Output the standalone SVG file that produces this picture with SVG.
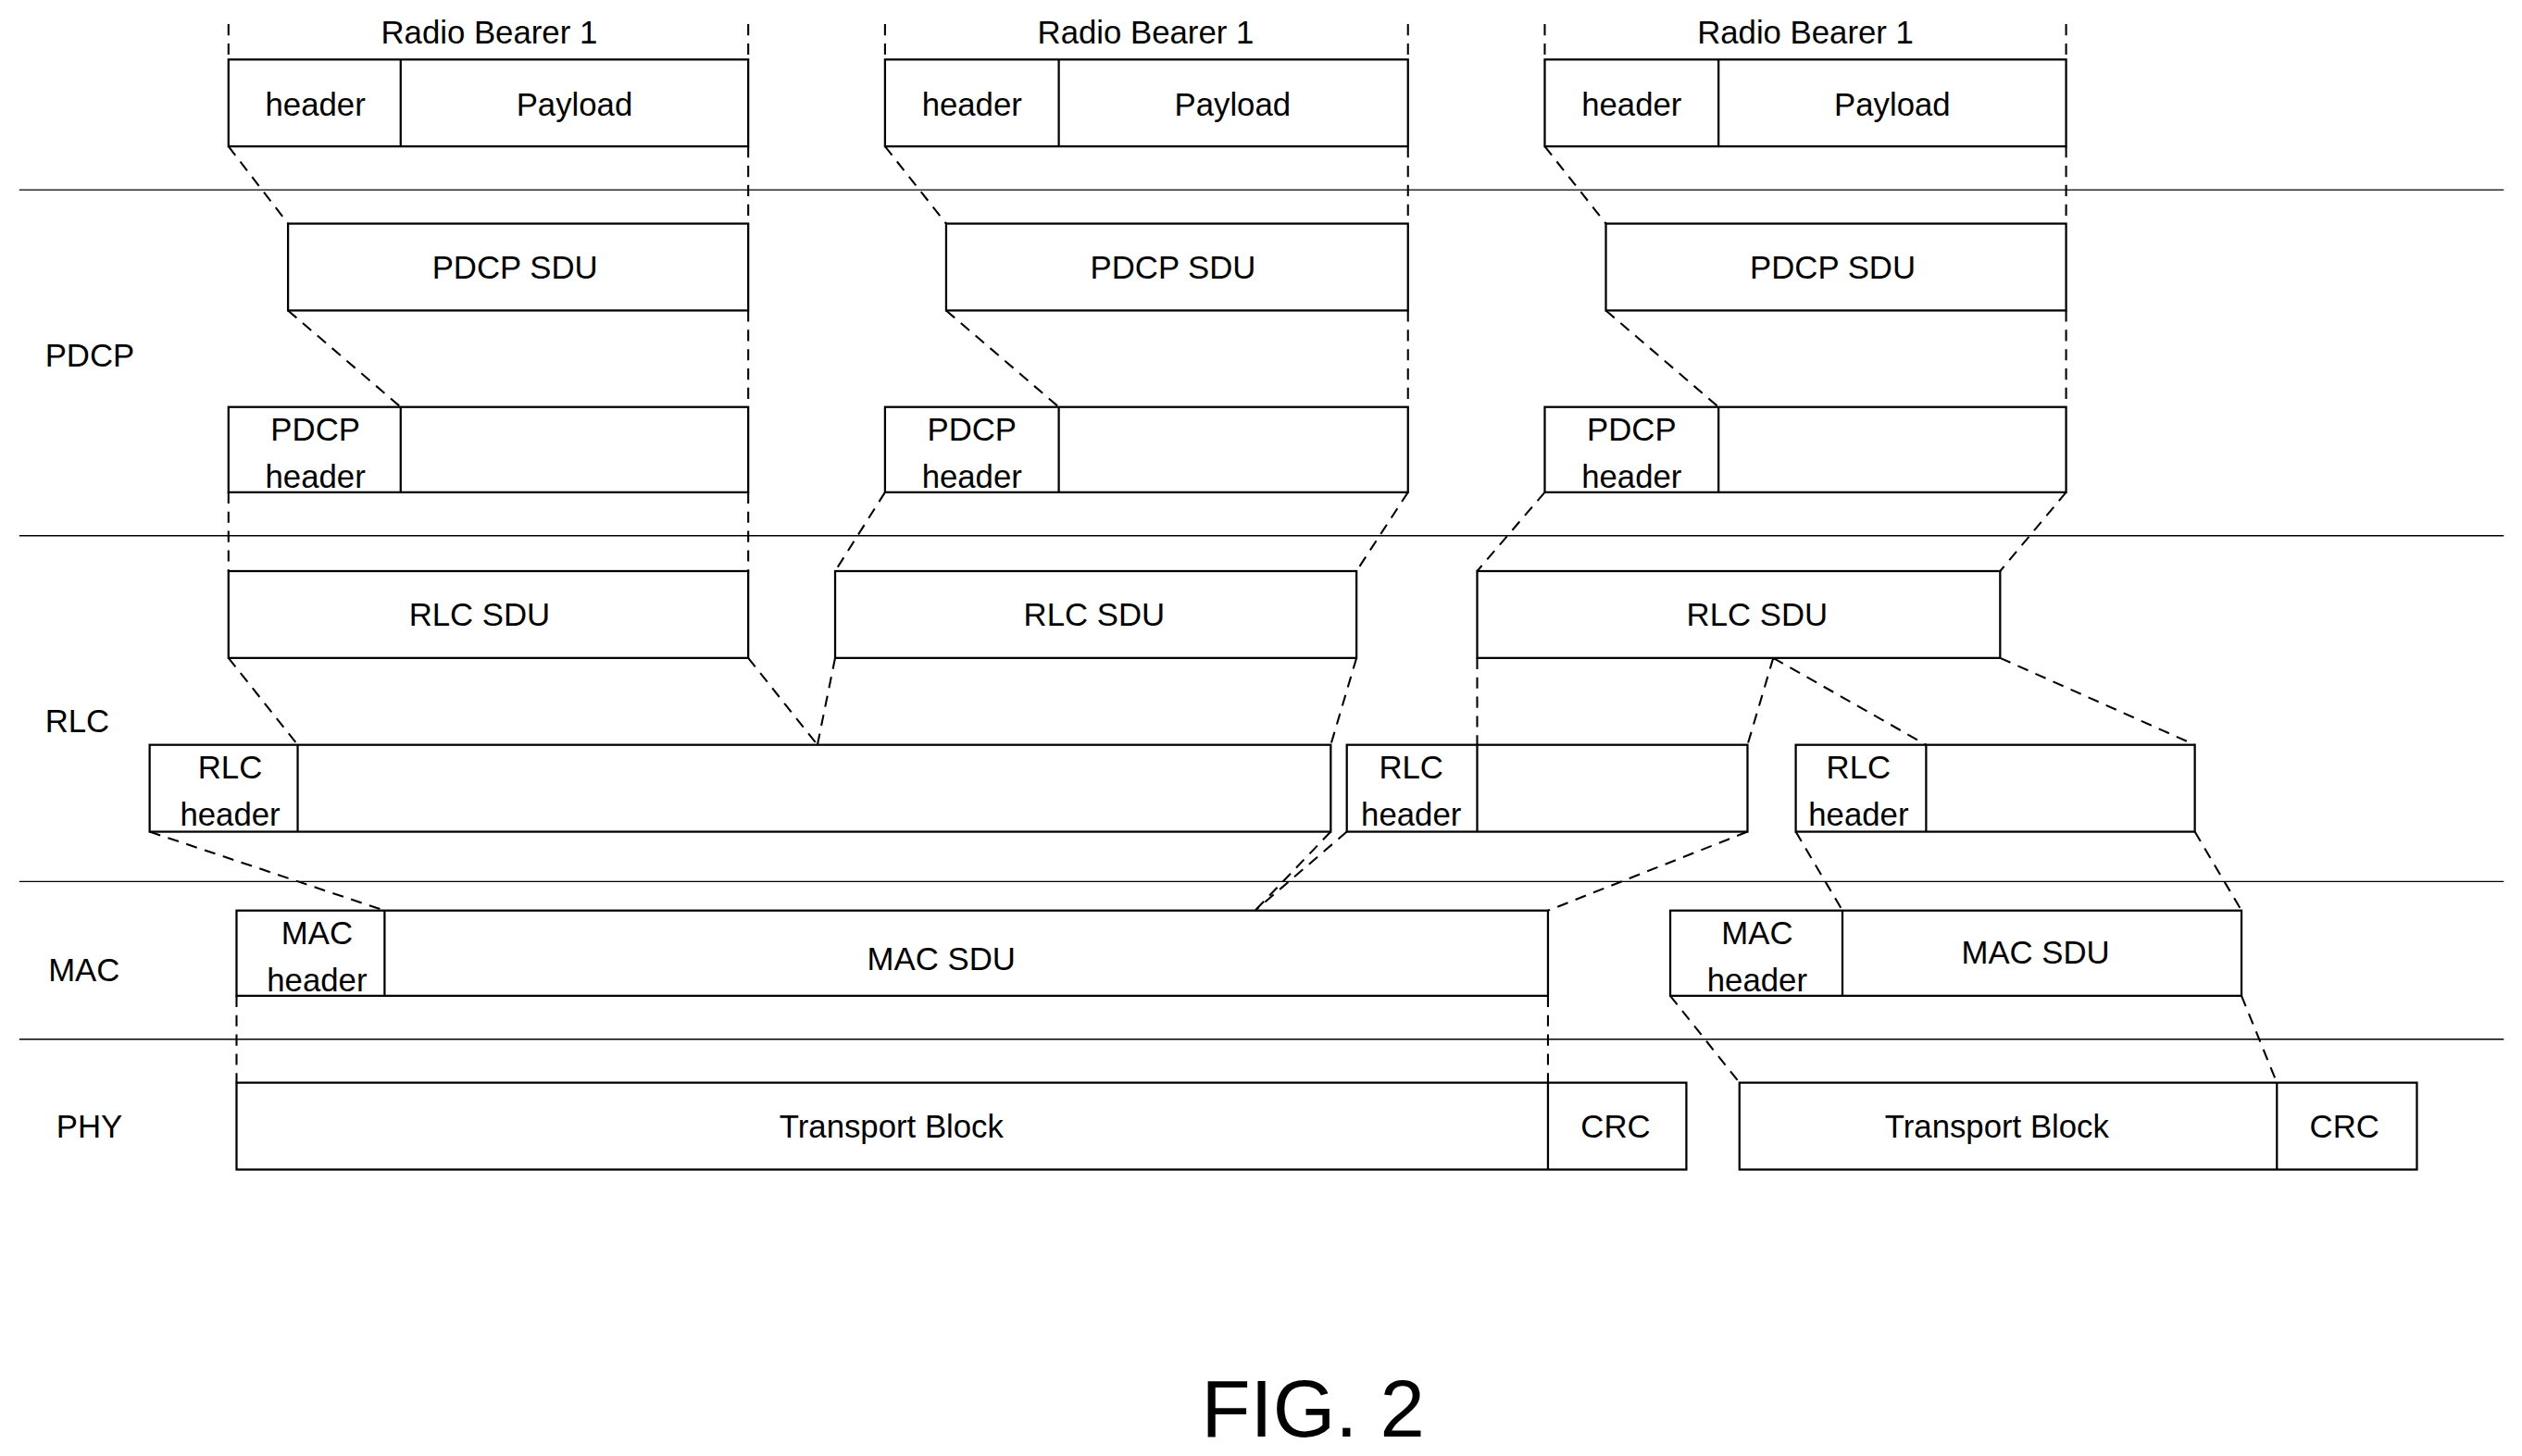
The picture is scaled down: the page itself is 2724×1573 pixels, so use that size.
<svg xmlns="http://www.w3.org/2000/svg" width="2724" height="1573" viewBox="0 0 2724 1573">
<style>
.b{fill:none;stroke:#000;stroke-width:1.3}
.l{stroke:#000;stroke-width:0.8}
.d{fill:none;stroke:#000;stroke-width:1.2;stroke-dasharray:7,5}
text{font-family:"Liberation Sans",Arial,sans-serif;font-size:20px;text-anchor:middle;fill:#000}
.lb{text-anchor:start}
</style>
<rect width="2724" height="1573" fill="#fff"/>
<g transform="scale(1.738)">
<g id="layers">
<line class="l" x1="12" y1="118" x2="1556" y2="118"/>
<line class="l" x1="12" y1="333" x2="1556" y2="333"/>
<line class="l" x1="12" y1="548" x2="1556" y2="548"/>
<line class="l" x1="12" y1="646" x2="1556" y2="646"/>
<text class="lb" x="28" y="228">PDCP</text>
<text class="lb" x="28" y="455">RLC</text>
<text class="lb" x="30" y="610">MAC</text>
<text class="lb" x="35" y="707">PHY</text>
</g>
<g id="rb1">
<text x="304" y="27">Radio Bearer 1</text>
<rect class="b" x="142" y="37" width="323" height="54"/><line class="b" x1="249" y1="37" x2="249" y2="91"/>
<text x="196" y="72">header</text><text x="357" y="72">Payload</text>
</g>
<g id="rb2">
<text x="712" y="27">Radio Bearer 1</text>
<rect class="b" x="550" y="37" width="325" height="54"/><line class="b" x1="658" y1="37" x2="658" y2="91"/>
<text x="604" y="72">header</text><text x="766" y="72">Payload</text>
</g>
<g id="rb3">
<text x="1122" y="27">Radio Bearer 1</text>
<rect class="b" x="960" y="37" width="324" height="54"/><line class="b" x1="1068" y1="37" x2="1068" y2="91"/>
<text x="1014" y="72">header</text><text x="1176" y="72">Payload</text>
</g>
<g id="pdcpsdu">
<rect class="b" x="179" y="139" width="286" height="54"/><text x="320" y="173">PDCP SDU</text>
<rect class="b" x="588" y="139" width="287" height="54"/><text x="729" y="173">PDCP SDU</text>
<rect class="b" x="998" y="139" width="286" height="54"/><text x="1139" y="173">PDCP SDU</text>
</g>
<g id="pdcppdu">
<rect class="b" x="142" y="253" width="323" height="53"/><line class="b" x1="249" y1="253" x2="249" y2="306"/>
<text x="196" y="274">PDCP</text><text x="196" y="303">header</text>
<rect class="b" x="550" y="253" width="325" height="53"/><line class="b" x1="658" y1="253" x2="658" y2="306"/>
<text x="604" y="274">PDCP</text><text x="604" y="303">header</text>
<rect class="b" x="960" y="253" width="324" height="53"/><line class="b" x1="1068" y1="253" x2="1068" y2="306"/>
<text x="1014" y="274">PDCP</text><text x="1014" y="303">header</text>
</g>
<g id="rlcsdu">
<rect class="b" x="142" y="355" width="323" height="54"/><text x="298" y="389">RLC SDU</text>
<rect class="b" x="519" y="355" width="324" height="54"/><text x="680" y="389">RLC SDU</text>
<rect class="b" x="918" y="355" width="325" height="54"/><text x="1092" y="389">RLC SDU</text>
</g>
<g id="rlcpdu">
<rect class="b" x="93" y="463" width="734" height="54"/><line class="b" x1="185" y1="463" x2="185" y2="517"/>
<text x="143" y="484">RLC</text><text x="143" y="513">header</text>
<rect class="b" x="837" y="463" width="249" height="54"/><line class="b" x1="918" y1="463" x2="918" y2="517"/>
<text x="877" y="484">RLC</text><text x="877" y="513">header</text>
<rect class="b" x="1116" y="463" width="248" height="54"/><line class="b" x1="1197" y1="463" x2="1197" y2="517"/>
<text x="1155" y="484">RLC</text><text x="1155" y="513">header</text>
</g>
<g id="mac">
<rect class="b" x="147" y="566" width="815" height="53"/><line class="b" x1="239" y1="566" x2="239" y2="619"/>
<text x="197" y="587">MAC</text><text x="197" y="616">header</text><text x="585" y="603">MAC SDU</text>
<rect class="b" x="1038" y="566" width="355" height="53"/><line class="b" x1="1145" y1="566" x2="1145" y2="619"/>
<text x="1092" y="587">MAC</text><text x="1092" y="616">header</text><text x="1265" y="599">MAC SDU</text>
</g>
<g id="phy">
<rect class="b" x="147" y="673" width="901" height="54"/><line class="b" x1="962" y1="673" x2="962" y2="727"/>
<text x="554" y="707">Transport Block</text><text x="1004" y="707">CRC</text>
<rect class="b" x="1081" y="673" width="421" height="54"/><line class="b" x1="1415" y1="673" x2="1415" y2="727"/>
<text x="1241" y="707">Transport Block</text><text x="1457" y="707">CRC</text>
</g>
<g id="connectors">
<path class="d" d="M142 15V37M465 15V37M550 15V37M875 15V37M960 15V37M1284 15V37"/>
<path class="d" d="M142 91L179 139M465 91V139M550 91L588 139M875 91V139M960 91L998 139M1284 91V139"/>
<path class="d" d="M179 193L249 253M465 193V253M588 193L658 253M875 193V253M998 193L1068 253M1284 193V253"/>
<path class="d" d="M142 306V355M465 306V355M550 306L519 355M875 306L843 355M960 306L918 355M1284 306L1243 355"/>
<path class="d" d="M142 409L185 463M465 409L508 463M519 409L508 463M843 409L827 463M918 409V463M1102 409L1086 463M1102 409L1197 463M1243 409L1364 463"/>
<path class="d" d="M93 517L239 566M827 517L780 566M837 517L780 566M1086 517L962 566M1116 517L1145 566M1364 517L1393 566"/>
<path class="d" d="M147 619V673M962 619V673M1038 619L1081 673M1393 619L1415 673"/>
</g>
<text x="816" y="893" style="font-size:50px">FIG. 2</text>
</g>
</svg>
